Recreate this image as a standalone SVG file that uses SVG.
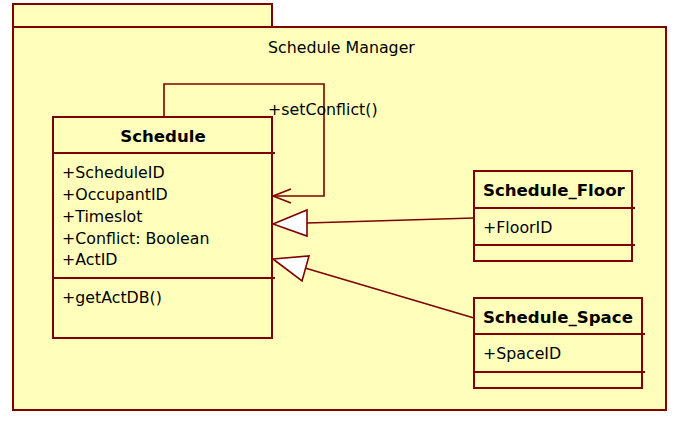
<svg xmlns="http://www.w3.org/2000/svg" width="694" height="424" viewBox="0 0 694 424">
<defs>
<style>
.box{fill:#FFFFBB;stroke:#800000;stroke-width:2}
.div{stroke:#800000;stroke-width:2;fill:none}
.ln{stroke:#800000;stroke-width:1.6;fill:none}
.t{font-family:"DejaVu Sans",Verdana,sans-serif;font-size:15.8px;fill:#000}
.b{font-family:"DejaVu Sans",Verdana,sans-serif;font-size:16.6px;font-weight:bold;fill:#000}
.tri{fill:#fff;stroke:#800000;stroke-width:1.6}
</style>
</defs>
<rect width="694" height="424" fill="#fff"/>
<g id="package">
<rect class="box" x="13" y="4" width="259" height="23"/>
<rect class="box" x="13" y="27" width="653" height="383"/>
<text class="t" x="268" y="53">Schedule Manager</text>
</g>
<g id="connectors">
<polyline class="ln" points="164,117 164,84 324,84 324,196 273,196" stroke-width="2"/>
<polyline class="ln" points="291,189 273,196 291,203"/>
<text class="t" x="268" y="115">+setConflict()</text>
<line class="ln" x1="474" y1="218" x2="307" y2="223"/>
<polygon class="tri" points="273,224 307,210 307,236"/>
<line class="ln" x1="474" y1="318" x2="305" y2="268"/>
<polygon class="tri" points="273,259 309,256 302,281"/>
</g>
<g id="Schedule">
<rect class="box" x="53" y="117" width="219" height="221"/>
<line class="div" x1="53" y1="153" x2="275" y2="153"/>
<line class="div" x1="53" y1="278" x2="275" y2="278"/>
<text class="b" x="163" y="142" text-anchor="middle">Schedule</text>
<text class="t" x="62" y="178">+ScheduleID</text>
<text class="t" x="62" y="200">+OccupantID</text>
<text class="t" x="62" y="222">+Timeslot</text>
<text class="t" x="62" y="244">+Conflict: Boolean</text>
<text class="t" x="62" y="265">+ActID</text>
<text class="t" x="62" y="303">+getActDB()</text>
</g>
<g id="Schedule_Floor">
<rect class="box" x="474" y="171" width="158" height="90"/>
<line class="div" x1="474" y1="208" x2="635" y2="208"/>
<line class="div" x1="474" y1="245" x2="635" y2="245"/>
<text class="b" x="483" y="196">Schedule_Floor</text>
<text class="t" x="483" y="233">+FloorID</text>
</g>
<g id="Schedule_Space">
<rect class="box" x="474" y="298" width="168" height="90"/>
<line class="div" x1="474" y1="334" x2="645" y2="334"/>
<line class="div" x1="474" y1="372" x2="645" y2="372"/>
<text class="b" x="483" y="323">Schedule_Space</text>
<text class="t" x="483" y="359">+SpaceID</text>
</g>
</svg>
